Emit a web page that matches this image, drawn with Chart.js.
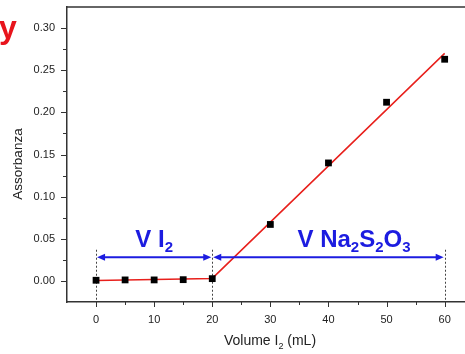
<!DOCTYPE html>
<html>
<head>
<meta charset="utf-8">
<script src="https://cdn.jsdelivr.net/npm/chart.js@4"></script>
<style>
  html, body { margin: 0; padding: 0; background: #fff; }
  #wrap { width: 465px; height: 354px; overflow: hidden; }
</style>
</head>
<body>
<div id="wrap"><canvas id="titrChart" width="465" height="354"></canvas></div>
<script>
/* ===== DATA ===== */
const volumes = [0, 5, 10, 15, 20, 30, 40, 50, 60];
const absorb = [0.0008, 0.0012, 0.0012, 0.0015, 0.0027, 0.067, 0.140, 0.212, 0.263];

// fitted lines (flat part + linear part)
const fitX = [0, 20, 60];
const fitY = [0.0004, 0.003, 0.270];

const xMajor = [0, 10, 20, 30, 40, 50, 60];
const xMinor = [5, 15, 25, 35, 45, 55];
const yMajor = [0, 0.05, 0.10, 0.15, 0.20, 0.25, 0.30];
const yMinor = [0.025, 0.075, 0.125, 0.175, 0.225, 0.275];

// equivalence markers + arrows
const markVolumes = [0, 20, 60];
const arrowSpans = [[0, 20], [20, 60]];
const spanLabels = [
  { x: 10, parts: [["V I", 0], ["2", 1]] },
  { x: 44.4, parts: [["V Na", 0], ["2", 1], ["S", 0], ["2", 1], ["O", 0], ["3", 1]] },
];

const FONT = "'Liberation Sans', Arial, sans-serif";
const BLUE = "#1c1ce0";
const RED = "#e8201c";
const AXIS = "#333";

Chart.defaults.font.family = FONT;
Chart.defaults.color = "#222";

/* ===== HELPERS ===== */
function drawRich(ctx, parts, cx, baseY, size, subSize, drop, weight, color) {
  ctx.fillStyle = color;
  ctx.textAlign = "left";
  ctx.textBaseline = "alphabetic";
  let w = 0;
  parts.forEach(([t, sub]) => {
    ctx.font = `${weight} ${sub ? subSize : size}px ${FONT}`;
    w += ctx.measureText(t).width;
  });
  let x = cx - w / 2;
  parts.forEach(([t, sub]) => {
    ctx.font = `${weight} ${sub ? subSize : size}px ${FONT}`;
    ctx.fillText(t, x, sub ? baseY + drop : baseY);
    x += ctx.measureText(t).width;
  });
}

function arrowHead(ctx, tipX, py, dir) {
  ctx.beginPath();
  ctx.moveTo(tipX, py);
  ctx.lineTo(tipX - dir * 8, py - 3.5);
  ctx.lineTo(tipX - dir * 8, py + 3.5);
  ctx.closePath();
  ctx.fill();
}

/* ===== PLUGINS ===== */
const decor = {
  id: "decor",
  beforeDatasetsDraw(chart) {
    const { ctx, scales: { x, y } } = chart;
    ctx.save();
    ctx.strokeStyle = "#444";
    ctx.lineWidth = 1;
    ctx.setLineDash([2, 2]);
    markVolumes.forEach(v => {
      const px = Math.round(x.getPixelForValue(v)) + 0.5;
      ctx.beginPath();
      ctx.moveTo(px, y.getPixelForValue(0.037));
      ctx.lineTo(px, y.getPixelForValue(-0.025));
      ctx.stroke();
    });
    ctx.restore();
  },
  afterDraw(chart) {
    const { ctx, chartArea: a, scales: { x, y } } = chart;
    ctx.save();

    // frame top + tick marks
    ctx.strokeStyle = AXIS;
    ctx.lineWidth = 1.5;
    ctx.beginPath();
    ctx.moveTo(a.left, a.top);
    ctx.lineTo(a.right, a.top);
    ctx.stroke();
    ctx.lineWidth = 1;
    const xt = (v, len) => {
      const px = Math.round(x.getPixelForValue(v)) + 0.5;
      ctx.beginPath(); ctx.moveTo(px, a.bottom); ctx.lineTo(px, a.bottom + len); ctx.stroke();
    };
    const yt = (v, len) => {
      const py = Math.round(y.getPixelForValue(v)) + 0.5;
      ctx.beginPath(); ctx.moveTo(a.left, py); ctx.lineTo(a.left - len, py); ctx.stroke();
    };
    xMajor.forEach(v => xt(v, 5));
    xMinor.forEach(v => xt(v, 3));
    yMajor.forEach(v => yt(v, 6));
    yMinor.forEach(v => yt(v, 4));

    // arrows
    ctx.strokeStyle = BLUE;
    ctx.fillStyle = BLUE;
    ctx.lineWidth = 2;
    const ay = y.getPixelForValue(0.028);
    arrowSpans.forEach(([s, e]) => {
      const x0 = x.getPixelForValue(s) + 1;
      const x1 = x.getPixelForValue(e) - 1;
      ctx.beginPath();
      ctx.moveTo(x0 + 4, ay);
      ctx.lineTo(x1 - 4, ay);
      ctx.stroke();
      arrowHead(ctx, x0, ay, -1);
      arrowHead(ctx, x1, ay, 1);
    });

    // span labels
    const ly = y.getPixelForValue(0.0405);
    spanLabels.forEach(l => {
      drawRich(ctx, l.parts, x.getPixelForValue(l.x), ly, 24, 15, 5, "bold", BLUE);
    });

    // axis titles
    drawRich(ctx, [["Volume I", 0], ["2", 1], [" (mL)", 0]],
      (a.left + a.right) / 2 + 4, 345, 14, 9, 4, "normal", "#222");
    ctx.save();
    ctx.translate(21.5, 164);
    ctx.rotate(-Math.PI / 2);
    ctx.font = `13.5px ${FONT}`;
    ctx.fillStyle = "#222";
    ctx.textAlign = "center";
    ctx.textBaseline = "alphabetic";
    ctx.fillText("Assorbanza", 0, 0);
    ctx.restore();

    // clipped title letter at the corner
    ctx.font = `bold 32px ${FONT}`;
    ctx.fillStyle = "#e8141c";
    ctx.textAlign = "left";
    ctx.fillText("y", -1, 38);

    ctx.restore();
  },
};

/* ===== CHART ===== */
new Chart(document.getElementById("titrChart"), {
  type: "scatter",
  data: {
    datasets: [
      {
        data: volumes.map((v, i) => ({ x: v, y: absorb[i] })),
        pointStyle: "rect",
        pointRadius: 4.8,
        backgroundColor: "#000",
        borderColor: "#000",
        borderWidth: 0,
        showLine: false,
      },
      {
        data: fitX.map((v, i) => ({ x: v, y: fitY[i] })),
        showLine: true,
        borderColor: RED,
        borderWidth: 1.5,
        pointRadius: 0,
        fill: false,
      },
    ],
  },
  options: {
    responsive: false,
    animation: false,
    layout: { autoPadding: false, padding: { top: 7, left: 0, right: 0, bottom: 0 } },
    plugins: { legend: { display: false }, tooltip: { enabled: false } },
    scales: {
      x: {
        type: "linear",
        min: -5,
        max: 63.5,
        grid: { display: false, drawTicks: false, tickLength: 0 },
        border: { display: true, color: AXIS, width: 1.5 },
        ticks: { padding: 11, font: { size: 11 }, color: "#222" },
        afterBuildTicks: s => { s.ticks = xMajor.map(v => ({ value: v })); },
        afterFit: s => {
          s.height = 52;
          s.paddingLeft = 0; s.paddingRight = 0;
        },
      },
      y: {
        min: -0.025,
        max: 0.325,
        grid: { display: false, drawTicks: false, tickLength: 0 },
        border: { display: true, color: AXIS, width: 1.5 },
        ticks: { padding: 12, font: { size: 11 }, color: "#222", callback: v => v.toFixed(2) },
        afterBuildTicks: s => { s.ticks = yMajor.map(v => ({ value: v })); },
        afterFit: s => {
          s.width = 67;
          s.paddingTop = 0; s.paddingBottom = 0;
        },
      },
    },
  },
  plugins: [decor],
});
</script>
</body>
</html>
